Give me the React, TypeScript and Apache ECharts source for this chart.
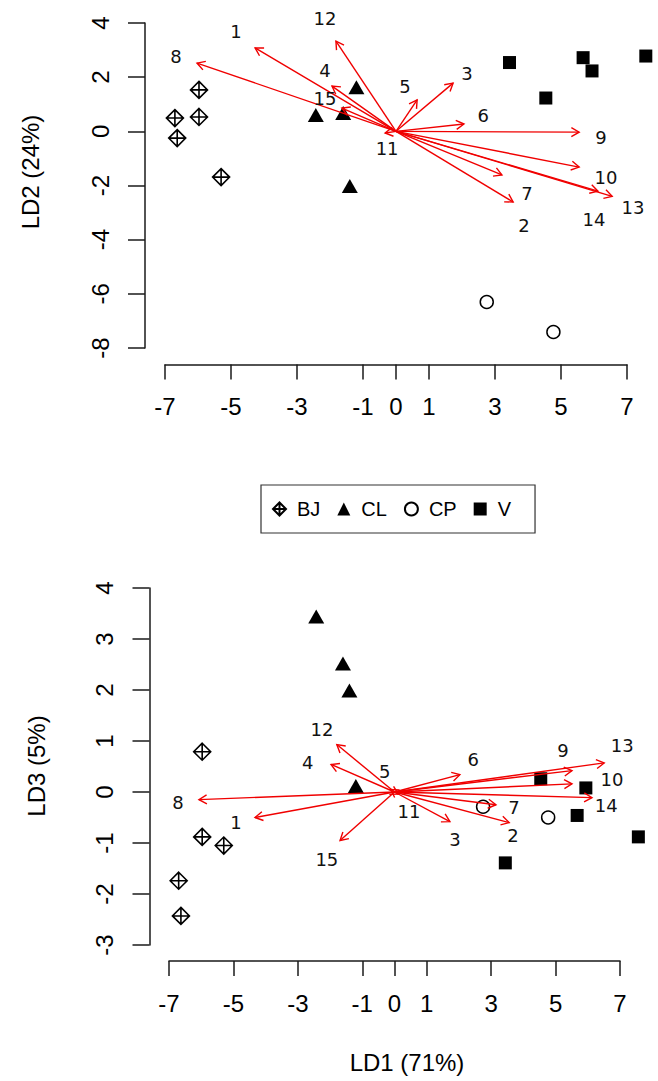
import React, { useEffect, useRef } from "react";
import * as echarts from "echarts";

// ---- Data ----
const groups = ["BJ", "CL", "CP", "V"];

const bjLD1 = [-5.97, -5.97, -6.7, -6.63, -5.3];
const bjLD2 = [1.53, 0.53, 0.49, -0.25, -1.69];
const bjLD3 = [0.79, -0.88, -1.74, -2.43, -1.05];

const clLD1 = [-2.43, -1.6, -1.4, -1.2];
const clLD2 = [0.6, 0.68, -2.02, 1.63];
const clLD3 = [3.44, 2.52, 1.99, 0.12];

const cpLD1 = [2.75, 4.77];
const cpLD2 = [-6.3, -7.41];
const cpLD3 = [-0.29, -0.5];

const vLD1 = [3.44, 5.67, 5.94, 4.54, 7.57];
const vLD2 = [2.54, 2.72, 2.23, 1.23, 2.78];
const vLD3 = [-1.39, -0.46, 0.08, 0.26, -0.88];

const varNames = ["1", "2", "3", "4", "5", "6", "7", "8", "9", "10", "11", "12", "13", "14", "15"];

// LD1 x LD2 biplot arrows (tips) and label positions
const topArrowX = [-4.27, 3.55, 1.73, -1.94, 0.64, 2.06, 3.21, -6.03, 5.55, 5.55, -0.33, -1.82, 6.55, 6.12, -1.64];
const topArrowY = [3.08, -2.61, 1.78, 1.67, 1.16, 0.27, -1.61, 2.52, -0.03, -1.32, -0.06, 3.33, -2.4, -2.21, 0.86];
const topLabelX = [-4.85, 3.88, 2.15, -2.15, 0.27, 2.64, 3.97, -6.67, 6.21, 6.36, -0.27, -2.15, 7.18, 6.0, -2.15];
const topLabelY = [3.67, -3.49, 2.15, 2.26, 1.64, 0.6, -2.28, 2.78, -0.21, -1.69, -0.62, 4.18, -2.8, -3.24, 1.23];

// LD1 x LD3 biplot arrows (tips) and label positions
const botArrowX = [-4.33, 3.56, 1.72, -1.97, -0.12, 2.03, 3.15, -6.07, 5.51, 5.51, 0.12, -1.79, 6.51, 6.13, -1.69];
const botArrowY = [-0.5, -0.6, -0.58, 0.54, 0.05, 0.34, -0.25, -0.15, 0.42, 0.16, -0.04, 0.93, 0.57, -0.11, -0.95];
const botLabelX = [-4.92, 3.68, 1.88, -2.69, -0.3, 2.44, 3.71, -6.72, 5.23, 6.75, 0.45, -2.25, 7.07, 6.57, -2.1];
const botLabelY = [-0.6, -0.86, -0.94, 0.57, 0.4, 0.63, -0.31, -0.21, 0.81, 0.24, -0.39, 1.22, 0.91, -0.27, -1.33];

const xTicks = [-7, -5, -3, -1, 0, 1, 3, 5, 7];
const titleLD1 = "LD1 (71%)";
const titleLD2 = "LD2 (24%)";
const titleLD3 = "LD3 (5%)";

// ---- Styling ----
const INK = "#000";
const AXIS = "#1a1a1a";
const RED = "#f00000";
const SANS = '"Liberation Sans", Arial, sans-serif';
const LABEL_FONT = '18px "DejaVu Sans", Verdana, sans-serif';
const DIAMOND_PLUS = "path://M10,0 L20,10 L10,20 L0,10 Z M10,0 L10,20 M0,10 L20,10";

const zip = (a: number[], b: number[]) => a.map((v, i) => [v, b[i]]);

function scatterSeries(axisIdx: number, ys: number[][]) {
  const [bjY, clY, cpY, vY] = ys;
  const common = { type: "scatter", xAxisIndex: axisIdx, yAxisIndex: axisIdx, clip: false, z: 2 };
  return [
    {
      ...common,
      name: groups[0],
      data: zip(bjLD1, bjY),
      symbol: DIAMOND_PLUS,
      symbolSize: 17,
      itemStyle: { color: "transparent", borderColor: INK, borderWidth: 1.6, opacity: 1 },
    },
    {
      ...common,
      name: groups[1],
      data: zip(clLD1, clY),
      symbol: "triangle",
      symbolSize: [16, 14],
      itemStyle: { color: INK, opacity: 1 },
    },
    {
      ...common,
      name: groups[2],
      data: zip(cpLD1, cpY),
      symbol: "circle",
      symbolSize: 13,
      itemStyle: { color: "transparent", borderColor: INK, borderWidth: 1.5, opacity: 1 },
    },
    {
      ...common,
      name: groups[3],
      data: zip(vLD1, vY),
      symbol: "rect",
      symbolSize: 13,
      itemStyle: { color: INK, opacity: 1 },
    },
  ];
}

function arrowSeries(axisIdx: number, xs: number[], ys: number[]) {
  return {
    type: "custom",
    xAxisIndex: axisIdx,
    yAxisIndex: axisIdx,
    z: 5,
    silent: true,
    data: xs.map((x, i) => [x, ys[i]]),
    renderItem: (_p: any, api: any) => {
      const p0 = api.coord([0, 0]);
      const p1 = api.coord([api.value(0), api.value(1)]);
      const ang = Math.atan2(p1[1] - p0[1], p1[0] - p0[0]);
      const L = 9;
      const a = Math.PI / 6;
      const h1 = [p1[0] - L * Math.cos(ang - a), p1[1] - L * Math.sin(ang - a)];
      const h2 = [p1[0] - L * Math.cos(ang + a), p1[1] - L * Math.sin(ang + a)];
      const st = { stroke: RED, lineWidth: 1.4, fill: null };
      return {
        type: "group",
        children: [
          { type: "line", shape: { x1: p0[0], y1: p0[1], x2: p1[0], y2: p1[1] }, style: st },
          { type: "polyline", shape: { points: [h1, p1, h2] }, style: st },
        ],
      };
    },
  };
}

function labelSeries(axisIdx: number, xs: number[], ys: number[]) {
  return {
    type: "custom",
    xAxisIndex: axisIdx,
    yAxisIndex: axisIdx,
    z: 6,
    silent: true,
    data: xs.map((x, i) => [x, ys[i], i]),
    renderItem: (_p: any, api: any) => {
      const p = api.coord([api.value(0), api.value(1)]);
      return {
        type: "text",
        x: p[0],
        y: p[1],
        style: {
          text: varNames[api.value(2)],
          font: LABEL_FONT,
          fill: "#111",
          align: "center",
          verticalAlign: "middle",
        },
      };
    },
  };
}

function xAxisCfg(gridIndex: number, offset: number) {
  return {
    type: "value",
    gridIndex,
    min: -7,
    max: 7,
    interval: 1,
    position: "bottom",
    offset,
    axisLine: { show: true, onZero: false, lineStyle: { color: AXIS, width: 1.5 } },
    axisTick: { show: true, length: 15, customValues: xTicks, lineStyle: { color: AXIS, width: 1.5 } },
    axisLabel: { customValues: xTicks, margin: 30, fontSize: 24, fontFamily: SANS, color: INK },
    splitLine: { show: false },
  };
}

function yAxisCfg(gridIndex: number, min: number, max: number, interval: number, offset: number) {
  return {
    type: "value",
    gridIndex,
    min,
    max,
    interval,
    position: "left",
    offset,
    axisLine: { show: true, onZero: false, lineStyle: { color: AXIS, width: 1.5 } },
    axisTick: { show: true, length: 17, lineStyle: { color: AXIS, width: 1.5 } },
    axisLabel: { rotate: 90, margin: 33, fontSize: 24, fontFamily: SANS, color: INK },
    splitLine: { show: false },
  };
}

export default function App() {
  const ref = useRef<HTMLDivElement>(null);

  useEffect(() => {
    if (!ref.current) return;
    const chart = echarts.init(ref.current, null, { renderer: "svg" });
    const option: any = {
      animation: false,
      backgroundColor: "#fff",
      grid: [
        { left: 165, right: 31, top: 23, height: 325 },
        { left: 169, right: 38, top: 588, height: 357 },
      ],
      xAxis: [xAxisCfg(0, 16.5), xAxisCfg(1, 16)],
      yAxis: [yAxisCfg(0, -8, 4, 2, 20), yAxisCfg(1, -3, 4, 1, 19.5)],
      legend: {
        left: 261,
        top: 485,
        orient: "horizontal",
        padding: [14, 24, 14, 11],
        borderColor: "#333",
        borderWidth: 1.2,
        itemWidth: 13,
        itemHeight: 13,
        itemGap: 17,
        selectedMode: false,
        textStyle: { fontSize: 20, fontFamily: SANS, color: INK, padding: [0, 0, 0, 6] },
        data: groups,
      },
      graphic: [
        {
          type: "text",
          x: 30,
          y: 172,
          rotation: Math.PI / 2,
          style: { text: titleLD2, font: `24px ${SANS}`, fill: INK, align: "center", verticalAlign: "middle" },
        },
        {
          type: "text",
          x: 36,
          y: 766,
          rotation: Math.PI / 2,
          style: { text: titleLD3, font: `24px ${SANS}`, fill: INK, align: "center", verticalAlign: "middle" },
        },
        {
          type: "text",
          x: 407,
          y: 1062,
          style: { text: titleLD1, font: `24px ${SANS}`, fill: INK, align: "center", verticalAlign: "middle" },
        },
      ],
      series: [
        ...scatterSeries(0, [bjLD2, clLD2, cpLD2, vLD2]),
        arrowSeries(0, topArrowX, topArrowY),
        labelSeries(0, topLabelX, topLabelY),
        ...scatterSeries(1, [bjLD3, clLD3, cpLD3, vLD3]),
        arrowSeries(1, botArrowX, botArrowY),
        labelSeries(1, botLabelX, botLabelY),
      ],
    };
    chart.setOption(option);
    return () => chart.dispose();
  }, []);

  return (
    <div
      ref={ref}
      style={{ position: "absolute", left: 0, top: 0, width: 658, height: 1081, background: "#fff" }}
    />
  );
}
